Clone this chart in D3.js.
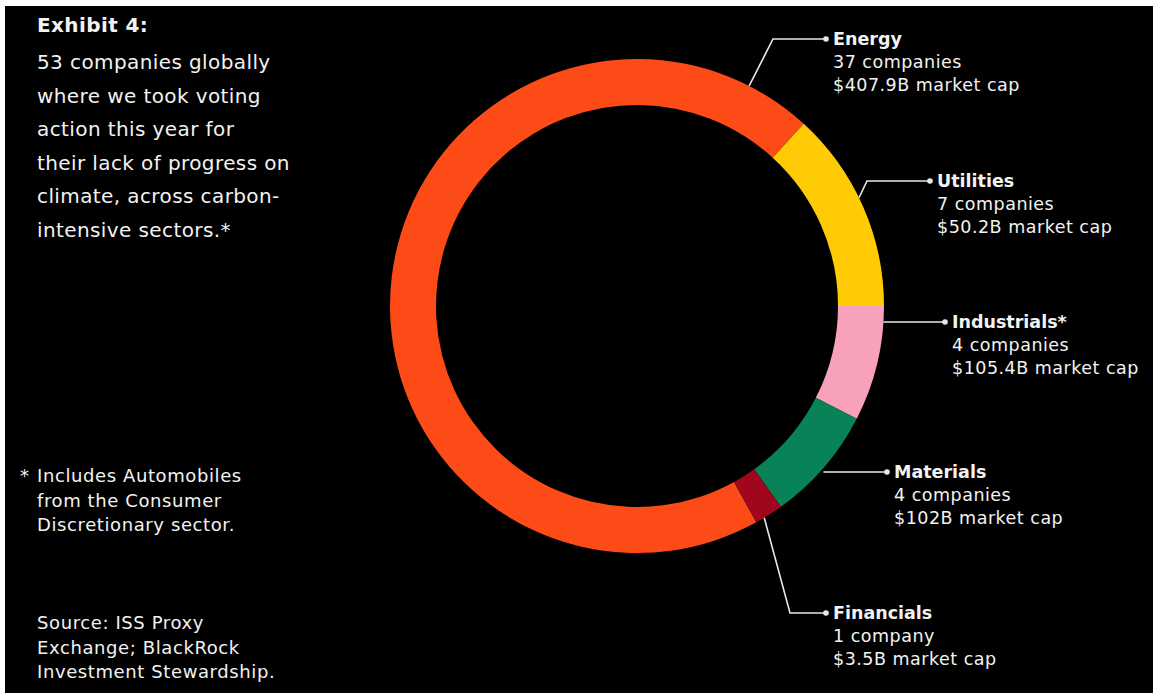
<!DOCTYPE html>
<html><head><meta charset="utf-8">
<script src="https://cdn.jsdelivr.net/npm/d3@7"></script>
<style>html,body{margin:0;padding:0;background:#fff;}svg{display:block;}</style>
</head><body>
<svg id="chart" width="1153" height="693"></svg>
<script>
const categories = ["Energy", "Utilities", "Industrials*", "Materials", "Financials"];
const companies = [37, 7, 4, 4, 1];
const companyLabels = ["37 companies", "7 companies", "4 companies", "4 companies", "1 company"];
const marketCaps = ["$407.9B market cap", "$50.2B market cap", "$105.4B market cap", "$102B market cap", "$3.5B market cap"];
const colors = ["#fd4b17", "#ffcb05", "#f7a1bb", "#088357", "#a0061c"];

const titleLines = ["53 companies globally", "where we took voting", "action this year for", "their lack of progress on", "climate, across carbon-", "intensive sectors.*"];
const footLines = ["Includes Automobiles", "from the Consumer", "Discretionary sector."];
const sourceLines = ["Source: ISS Proxy", "Exchange; BlackRock", "Investment Stewardship."];

// layout (positions only)
const cx = 637, cy = 306, R = 247, r = 201;
const anchorDeg = [27, 64, 93.7, 131, 149];
const elbows = [[773, 39], [867, 181], null, null, [790, 613]];
const dots = [[826, 39], [930, 181], [945, 322], [887, 472], [826, 613]];

const svg = d3.select("#chart");
svg.append("rect").attr("x", 5).attr("y", 6).attr("width", 1153).attr("height", 693).attr("fill", "#000");

const total = d3.sum(companies);
const offset = Math.PI / 2 - 2 * Math.PI * (companies[0] + companies[1]) / total;
const pie = d3.pie().sort(null).startAngle(offset).endAngle(offset + 2 * Math.PI);
const arc = d3.arc().innerRadius(r).outerRadius(R);
const g = svg.append("g").attr("transform", `translate(${cx},${cy})`);
g.selectAll("path").data(pie(companies)).join("path")
  .attr("d", arc).attr("fill", (d, i) => colors[i]);

const font = "'DejaVu Sans', Verdana, sans-serif";
const txt = "#f2f2f2";

categories.forEach((c, i) => {
  const a = anchorDeg[i] * Math.PI / 180;
  const sx = cx + R * Math.sin(a), sy = cy - R * Math.cos(a);
  const d = dots[i];
  const pts = [[sx, elbows[i] ? sy : d[1]]];
  if (elbows[i]) pts.push(elbows[i]);
  pts.push(d);
  svg.append("path").attr("d", d3.line()(pts)).attr("fill", "none")
    .attr("stroke", "#e8e8e8").attr("stroke-width", 1.6);
  svg.append("circle").attr("cx", d[0]).attr("cy", d[1]).attr("r", 2.8).attr("fill", "#e8e8e8");
  const t = svg.append("text").attr("x", d[0] + 7).attr("y", d[1] + 6)
    .attr("font-family", font).attr("font-size", 17.5).attr("fill", txt);
  t.append("tspan").attr("x", d[0] + 7).attr("font-weight", "bold").text(c);
  t.append("tspan").attr("x", d[0] + 7).attr("dy", 23).attr("letter-spacing", 0.5).text(companyLabels[i]);
  t.append("tspan").attr("x", d[0] + 7).attr("dy", 23).attr("letter-spacing", 0.5).text(marketCaps[i]);
});

// title
const tt = svg.append("text").attr("font-family", font).attr("fill", txt).attr("font-size", 20).attr("letter-spacing", 0.4);
tt.append("tspan").attr("x", 37).attr("y", 32).attr("font-weight", "bold").text("Exhibit 4:");
titleLines.forEach((l, i) => tt.append("tspan").attr("x", 37).attr("y", 69 + i * 33.5).text(l));

// footnote
const ft = svg.append("text").attr("font-family", font).attr("fill", txt).attr("font-size", 18).attr("letter-spacing", 0.6);
ft.append("tspan").attr("x", 20).attr("y", 482).text("*");
footLines.forEach((l, i) => ft.append("tspan").attr("x", 37).attr("y", 482 + i * 24.5).text(l));
sourceLines.forEach((l, i) => ft.append("tspan").attr("x", 37).attr("y", 629 + i * 24.5).text(l));
</script>
</body></html>
